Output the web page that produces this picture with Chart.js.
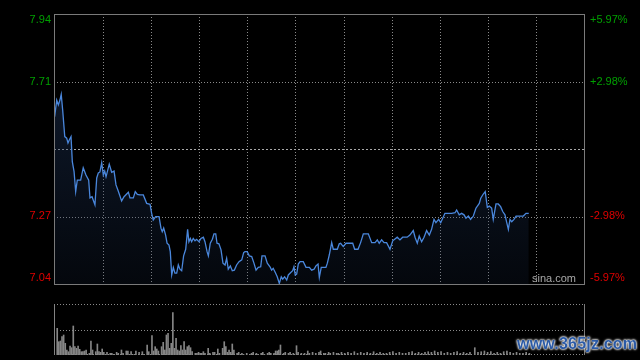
<!DOCTYPE html>
<html>
<head>
<meta charset="utf-8">
<title>分时走势</title>
<script src="https://cdn.jsdelivr.net/npm/chart.js@4.4.1/dist/chart.umd.min.js"></script>
<style>
  html, body { margin: 0; padding: 0; background: #000; }
  #wrap { position: relative; width: 640px; height: 360px; overflow: hidden; background: #000; }
  #priceChart { position: absolute; left: 0; top: 0; }
  #volChart { position: absolute; left: 0; top: 300px; }
  .logo { position: absolute; left: 532px; top: 272px; font: 11px Arial, "Liberation Sans", sans-serif; color: #a8a8a8; }
  .mark { position: absolute; left: 517px; top: 335px; font: bold 16px Arial, "Liberation Sans", sans-serif; color: #2b5aa6;
          text-shadow: 0 0 2px #fff, 0 0 2px #fff, 0 0 3px #fff; letter-spacing: 0.2px; }
</style>
</head>
<body>
<div id="wrap">
  <canvas id="priceChart" width="640" height="300"></canvas>
  <canvas id="volChart" width="640" height="60"></canvas>
  <div class="logo">sina.com</div>
  <div class="mark">www.365jz.com</div>
</div>
<script>
// previous close and price axis range (symmetrical around prev close)
const prevClose = 7.49;
const yMin = 7.043;
const yMax = 7.937;
const tickValues = [7.937, 7.713, 7.267, 7.043];
const leftLabels = ['7.94', '7.71', '7.27', '7.04'];
const rightLabels = ['+5.97%', '+2.98%', '-2.98%', '-5.97%'];

// trading session in minutes (9:30-12:00, 13:00-16:00), grid every 30 min
const sessionMinutes = 330;
const timeTicks = [30, 60, 90, 120, 150, 180, 210, 240, 270, 300];

// [minute, price]
const priceData = [
  [0.4,7.597],[1.7,7.652],[2.7,7.636],[3.7,7.652],[4.5,7.671],[5.4,7.619],[6.7,7.531],[7.9,7.526],[8.7,7.510],[9.5,7.520],
  [10.6,7.531],[11.4,7.448],[12.5,7.415],[13.5,7.349],[14.5,7.387],[16.6,7.387],[18.2,7.428],[19.9,7.404],[21.6,7.387],[22.4,7.328],
  [23.7,7.332],[25.5,7.305],[26.6,7.394],[27.6,7.411],[28.6,7.414],[29.7,7.444],[30.7,7.404],[31.6,7.417],[32.4,7.398],[34.4,7.440],
  [35.9,7.413],[37.4,7.417],[38.6,7.371],[40.0,7.351],[42.1,7.318],[43.6,7.332],[46.3,7.347],[47.3,7.328],[49.4,7.328],[50.6,7.349],
  [51.9,7.340],[53.5,7.338],[55.6,7.338],[57.7,7.310],[59.8,7.307],[60.8,7.277],[61.8,7.255],[63.3,7.266],[65.4,7.266],[66.6,7.228],
  [67.4,7.216],[68.3,7.228],[69.5,7.205],[70.4,7.178],[71.6,7.172],[72.4,7.150],[73.3,7.073],[74.3,7.098],[75.3,7.079],[76.4,7.079],
  [77.4,7.106],[78.4,7.092],[79.5,7.087],[80.7,7.136],[82.0,7.158],[83.2,7.224],[84.0,7.183],[84.9,7.194],[85.7,7.183],[86.7,7.194],
  [87.8,7.186],[88.8,7.191],[90.3,7.183],[91.5,7.194],[93.0,7.198],[94.0,7.183],[95.3,7.150],[96.1,7.136],[97.3,7.178],[98.6,7.191],
  [99.6,7.209],[100.7,7.209],[101.5,7.178],[102.7,7.176],[104.0,7.156],[105.2,7.112],[106.5,7.106],[107.5,7.128],[108.5,7.092],[109.8,7.103],
  [111.0,7.087],[112.3,7.089],[113.7,7.106],[115.2,7.117],[116.9,7.123],[118.1,7.147],[118.9,7.150],[120.3,7.150],[121.6,7.136],[123.1,7.134],
  [124.5,7.112],[125.8,7.089],[127.2,7.098],[128.7,7.100],[129.5,7.136],[131.4,7.136],[132.8,7.112],[134.5,7.100],[135.5,7.089],[136.5,7.095],
  [137.8,7.081],[139.0,7.067],[140.3,7.045],[141.5,7.067],[142.4,7.059],[143.6,7.067],[144.9,7.056],[145.9,7.073],[147.4,7.081],[148.6,7.087],
  [149.4,7.100],[150.2,7.073],[151.1,7.076],[152.1,7.109],[153.2,7.117],[155.2,7.117],[156.9,7.098],[159.0,7.098],[160.4,7.089],[161.9,7.092],
  [163.1,7.103],[164.4,7.109],[165.2,7.065],[166.4,7.098],[169.3,7.098],[170.2,7.112],[171.4,7.139],[172.9,7.180],[173.9,7.158],[176.4,7.158],
  [177.6,7.176],[178.5,7.178],[180.1,7.167],[181.8,7.178],[186.0,7.178],[187.2,7.158],[189.3,7.158],[190.9,7.180],[192.6,7.209],[195.7,7.209],
  [197.8,7.180],[199.9,7.180],[201.3,7.189],[202.5,7.178],[204.0,7.189],[205.5,7.180],[207.1,7.180],[209.2,7.158],[210.9,7.186],[213.7,7.198],
  [215.4,7.189],[217.1,7.198],[219.9,7.198],[221.6,7.205],[223.7,7.220],[224.8,7.198],[226.2,7.178],[227.4,7.202],[228.9,7.183],[230.4,7.198],
  [232.0,7.220],[233.7,7.205],[235.1,7.224],[236.6,7.257],[237.8,7.246],[239.5,7.257],[240.8,7.246],[243.4,7.277],[247.6,7.277],[249.7,7.279],
  [250.7,7.288],[252.3,7.272],[253.8,7.277],[255.3,7.272],[256.5,7.261],[258.0,7.268],[259.4,7.257],[261.1,7.268],[262.7,7.294],[264.8,7.310],
  [265.7,7.327],[267.3,7.341],[268.5,7.349],[269.8,7.297],[271.0,7.301],[272.5,7.294],[273.5,7.257],[275.2,7.308],[276.6,7.308],[278.1,7.299],
  [279.4,7.283],[280.8,7.272],[281.8,7.249],[282.9,7.224],[283.9,7.257],[285.0,7.249],[286.4,7.257],[287.7,7.268],[290.1,7.268],[292.2,7.268],
  [293.9,7.277],[295.6,7.277]
];

// [minute, volume]
const volumeData = [
  [0,50.7],[2,26.7],[3,13.3],[4,14],[5,18.3],[6,20],[7,11.7],[8,5],[9,3.3],[10,9],[11,7.3],[12,29],[13,8.3],[14,6.7],[15,9],
  [16,5.7],[17,3.3],[18,3.3],[19,4],[20,5],[22,1.7],[23,14],[24,5],[26,3.3],[27,11],[28,3.3],[29,2.7],[30,6],[31,2.7],[32,0.7],
  [33,2.7],[35,1.7],[36,1.7],[37,0.7],[39,2.7],[40,1.7],[42,5],[43,1.7],[45,4],[46,4],[47,0.7],[48,3.3],[50,0.7],[51,4],[53,2.7],
  [55,3.3],[56,0.7],[58,10],[59,3.3],[61,19.3],[62,4],[63,8.3],[64,6],[65,4],[67,8.3],[68,12.7],[69,5],[70,20],[71,21.7],[72,6.7],
  [73,11.7],[74,42.3],[75,6.7],[76,16.7],[77,5],[78,4],[79,9.3],[80,5],[81,13.3],[82,5],[83,8.3],[84,9.3],[85,7.3],[86,3.3],[88,1.7],
  [89,1.7],[90,2.7],[91,1.7],[92,1.7],[93,3.3],[94,1.7],[96,6.7],[97,1.7],[99,2.7],[100,2.7],[102,6],[103,1.7],[105,6.7],[106,13.3],
  [107,8.3],[108,2.7],[109,5],[110,2.7],[111,11],[112,5],[114,1.7],[115,2.7],[117,1.7],[118,0.7],[120,1.7],[122,0.7],[123,1.7],[124,2.7],
  [126,1.7],[127,0.7],[129,1.7],[130,2.7],[131,0.7],[133,1.7],[134,2.7],[135,1.7],[137,1.7],[138,4],[139,4],[140,5],[141,10],[143,1.7],
  [144,2.7],[146,1.7],[147,2.7],[149,1.7],[151,9.3],[152,2.7],[154,1.7],[156,1.7],[158,4],[159,1.7],[161,2.7],[163,1.7],[165,2.7],[166,4],
  [168,1.7],[169,1.7],[171,2.7],[172,1.7],[174,2.7],[176,1.7],[177,1.7],[179,2.7],[181,1.7],[183,2.7],[185,1.7],[187,3.3],[189,1.7],
  [191,2.7],[193,1.7],[195,2.7],[197,1.7],[199,3.3],[201,1.7],[203,2.7],[205,1.7],[207,1.7],[209,2.7],[211,3.3],[213,1.7],[215,2.7],
  [217,1.7],[219,1.7],[221,2.7],[223,3.3],[225,1.7],[227,2.7],[229,1.7],[231,2.7],[233,3.3],[235,2.7],[237,4],[239,2.7],[241,3.3],
  [243,1.7],[245,2.7],[247,1.7],[249,2.7],[251,3.3],[253,1.7],[255,2.7],[257,1.7],[259,2.7],[262,7.3],[264,2.7],[266,3.3],[268,4],
  [270,2.7],[272,3.3],[274,1.7],[276,2.7],[278,1.7],[280,3.3],[282,4],[284,2.7],[286,1.7],[288,2.7],[290,1.7],[292,1.7],[294,2.7],[296,1.7]
];
const volMax = 51;

const upColor = '#00a000';
const downColor = '#e00000';
const gridColor = '#8a8a8a';
const frameColor = '#7a7a7a';
const labelFont = '11px Arial, "Liberation Sans", sans-serif';

function hLine(ctx, x1, x2, y) {
    ctx.beginPath(); ctx.moveTo(x1, y); ctx.lineTo(x2, y); ctx.stroke();
}
function vLine(ctx, x, y1, y2) {
    ctx.beginPath(); ctx.moveTo(x, y1); ctx.lineTo(x, y2); ctx.stroke();
}

// grid, frame and axis labels for the price panel
const priceFrame = {
    id: 'priceFrame',
    beforeDatasetsDraw(chart) {
        const { ctx, chartArea: a, scales: { x, y } } = chart;
        ctx.save();
        ctx.lineWidth = 1;
        ctx.strokeStyle = gridColor;
        ctx.setLineDash([1, 2]);
        timeTicks.forEach(function(t) {
            vLine(ctx, Math.ceil(x.getPixelForValue(t)) + 0.5, a.top, a.bottom);
        });
        [tickValues[1], tickValues[2]].forEach(function(v) {
            hLine(ctx, a.left, a.right, Math.ceil(y.getPixelForValue(v)) + 0.5);
        });
        // prev close line
        ctx.strokeStyle = '#a8a8a8';
        ctx.setLineDash([2, 2]);
        hLine(ctx, a.left, a.right, Math.ceil(y.getPixelForValue(prevClose)) + 0.5);
        ctx.restore();
    },
    afterDraw(chart) {
        const { ctx, chartArea: a, scales: { y } } = chart;
        ctx.save();
        ctx.lineWidth = 1;
        ctx.strokeStyle = frameColor;
        ctx.strokeRect(a.left + 0.5, a.top + 0.5, a.right - a.left, a.bottom - a.top);

        ctx.font = labelFont;
        ctx.textBaseline = 'middle';
        tickValues.forEach(function(v, i) {
            let py = y.getPixelForValue(v);
            if (i === 0) py = a.top + 6;
            if (i === tickValues.length - 1) py = a.bottom - 6;
            ctx.fillStyle = v > prevClose ? upColor : downColor;
            ctx.textAlign = 'right';
            ctx.fillText(leftLabels[i], a.left - 3, py);
            ctx.textAlign = 'left';
            ctx.fillText(rightLabels[i], a.right + 6, py);
        });
        ctx.restore();
    }
};

// dotted lines and side frame for the volume panel
const volFrame = {
    id: 'volFrame',
    beforeDatasetsDraw(chart) {
        const { ctx, chartArea: a, scales: { y } } = chart;
        ctx.save();
        ctx.lineWidth = 1;
        ctx.strokeStyle = gridColor;
        ctx.setLineDash([1, 2]);
        [volMax, volMax / 2, 0].forEach(function(v) {
            let py = Math.round(y.getPixelForValue(v)) + 0.5;
            if (v === 0) py -= 1;
            hLine(ctx, a.left, a.right, py);
        });
        ctx.setLineDash([]);
        ctx.strokeStyle = frameColor;
        vLine(ctx, a.left + 0.5, a.top, a.bottom);
        vLine(ctx, a.right + 0.5, a.top, a.bottom);
        ctx.restore();
    }
};

function areaFill(context) {
    const chart = context.chart;
    const a = chart.chartArea;
    if (!a) return 'rgba(30,50,85,0.3)';
    const g = chart.ctx.createLinearGradient(0, a.top + 60, 0, a.bottom);
    g.addColorStop(0, 'rgba(30,52,90,0.48)');
    g.addColorStop(1, 'rgba(30,52,90,0.14)');
    return g;
}

new Chart(document.getElementById('priceChart'), {
    type: 'line',
    data: {
        datasets: [{
            data: priceData.map(p => ({ x: p[0], y: p[1] })),
            borderColor: '#4a87dc',
            borderWidth: 1.3,
            pointRadius: 0,
            tension: 0,
            fill: 'start',
            backgroundColor: areaFill
        }]
    },
    options: {
        responsive: false,
        animation: false,
        layout: { padding: { left: 54, right: 56, top: 14, bottom: 16 } },
        plugins: { legend: { display: false }, tooltip: { enabled: false } },
        scales: {
            x: { type: 'linear', min: 0, max: sessionMinutes, display: false },
            y: { min: yMin, max: yMax, display: false }
        }
    },
    plugins: [priceFrame]
});

new Chart(document.getElementById('volChart'), {
    type: 'bar',
    data: {
        datasets: [{
            data: volumeData.map(v => ({ x: v[0], y: v[1] })),
            backgroundColor: '#858585',
            borderWidth: 0,
            barThickness: 1
        }]
    },
    options: {
        responsive: false,
        animation: false,
        layout: { padding: { left: 54, right: 56, top: 4, bottom: 5 } },
        plugins: { legend: { display: false }, tooltip: { enabled: false } },
        scales: {
            x: { type: 'linear', min: 0, max: sessionMinutes, offset: false, display: false },
            y: { min: 0, max: volMax, display: false }
        }
    },
    plugins: [volFrame]
});
</script>
</body>
</html>
